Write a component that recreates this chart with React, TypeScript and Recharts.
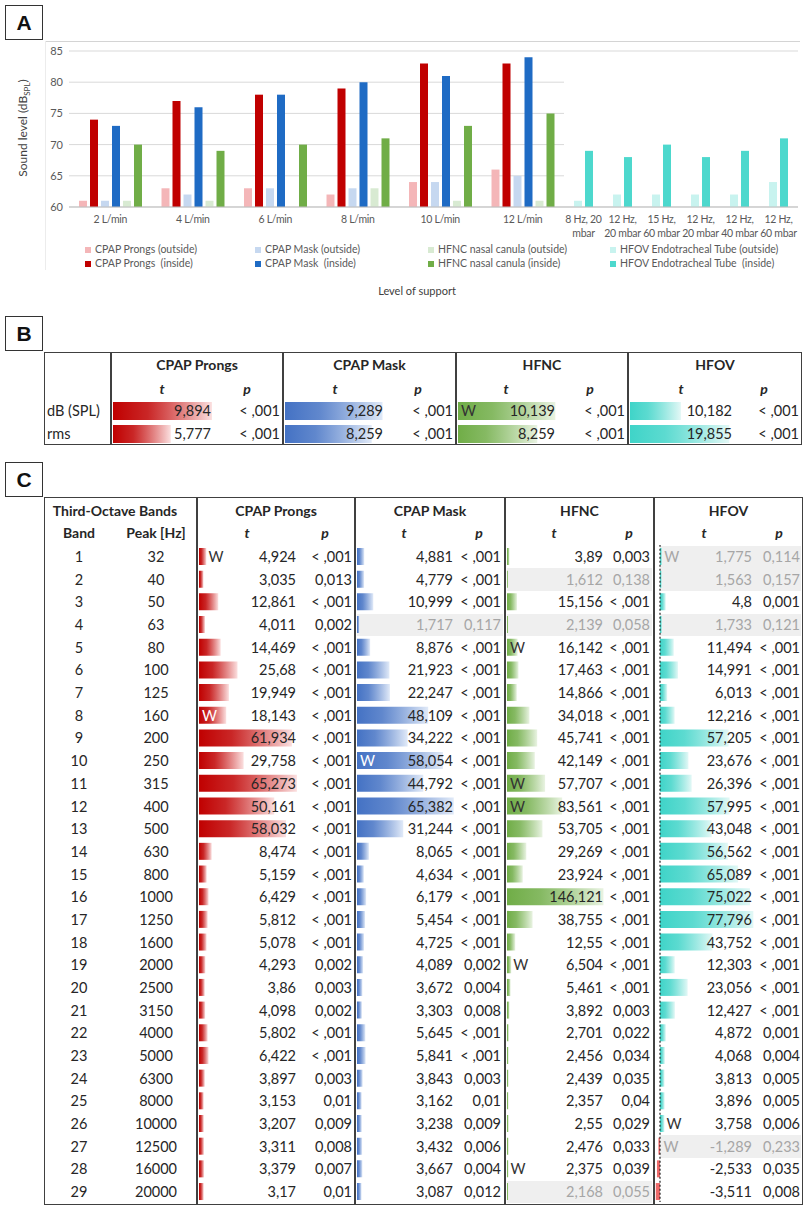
import React from "react";
import { BarChart, Bar, XAxis, YAxis, CartesianGrid, Cell, ReferenceLine } from "recharts";

// ---------- Panel A: sound level by level of support ----------
const flowLevels = ["2 L/min", "4 L/min", "6 L/min", "8 L/min", "10 L/min", "12 L/min"];
const hfovLevels = ["8 Hz, 20\nmbar", "12 Hz,\n20 mbar", "15 Hz,\n60 mbar", "12 Hz,\n20 mbar", "12 Hz,\n40 mbar", "12 Hz,\n60 mbar"];
const prongsOutside = [61, 63, 63, 62, 64, 66];
const prongsInside = [74, 77, 78, 79, 83, 83];
const maskOutside = [61, 62, 63, 63, 64, 65];
const maskInside = [73, 76, 78, 80, 81, 84];
const hfncOutside = [61, 61, null, 63, 61, 61];
const hfncInside = [70, 69, 70, 71, 73, 75];
const hfovOutside = [61, 62, 62, 62, 62, 64];
const hfovInside = [69, 68, 70, 68, 69, 71];
const soundTicks = [60, 65, 70, 75, 80, 85];

// ---------- Panel B: overall t-tests ----------
const measures = ["dB (SPL)", "rms"];
const prongsOverallT = [9.894, 5.777];
const prongsOverallP = ["< ,001", "< ,001"];
const maskOverallT = [9.289, 8.259];
const maskOverallP = ["< ,001", "< ,001"];
const hfncOverallT = [10.139, 8.259];
const hfncOverallP = ["< ,001", "< ,001"];
const hfovOverallT = [10.182, 19.855];
const hfovOverallP = ["< ,001", "< ,001"];
const prongsOverallW: number[] = [];
const maskOverallW: number[] = [];
const hfncOverallW = [1];
const hfovOverallW: number[] = [];

// ---------- Panel C: third-octave bands ----------
const bands = [1, 2, 3, 4, 5, 6, 7, 8, 9, 10, 11, 12, 13, 14, 15, 16, 17, 18, 19, 20, 21, 22, 23, 24, 25, 26, 27, 28, 29];
const peaks = [32, 40, 50, 63, 80, 100, 125, 160, 200, 250, 315, 400, 500, 630, 800, 1000, 1250, 1600, 2000, 2500, 3150, 4000, 5000, 6300, 8000, 10000, 12500, 16000, 20000];

const prongsT = [4.924, 3.035, 12.861, 4.011, 14.469, 25.68, 19.949, 18.143, 61.934, 29.758, 65.273, 50.161, 58.032, 8.474, 5.159, 6.429, 5.812, 5.078, 4.293, 3.86, 4.098, 5.802, 6.422, 3.897, 3.153, 3.207, 3.311, 3.379, 3.17];
const prongsP = ["< ,001", "0,013", "< ,001", "0,002", "< ,001", "< ,001", "< ,001", "< ,001", "< ,001", "< ,001", "< ,001", "< ,001", "< ,001", "< ,001", "< ,001", "< ,001", "< ,001", "< ,001", "0,002", "0,003", "0,002", "< ,001", "< ,001", "0,003", "0,01", "0,009", "0,008", "0,007", "0,01"];
const maskT = [4.881, 4.779, 10.999, 1.717, 8.876, 21.923, 22.247, 48.109, 34.222, 58.054, 44.792, 65.382, 31.244, 8.065, 4.634, 6.179, 5.454, 4.725, 4.089, 3.672, 3.303, 5.645, 5.841, 3.843, 3.162, 3.238, 3.432, 3.667, 3.087];
const maskP = ["< ,001", "< ,001", "< ,001", "0,117", "< ,001", "< ,001", "< ,001", "< ,001", "< ,001", "< ,001", "< ,001", "< ,001", "< ,001", "< ,001", "< ,001", "< ,001", "< ,001", "< ,001", "0,002", "0,004", "0,008", "< ,001", "< ,001", "0,003", "0,01", "0,009", "0,006", "0,004", "0,012"];
const hfncT = [3.89, 1.612, 15.156, 2.139, 16.142, 17.463, 14.866, 34.018, 45.741, 42.149, 57.707, 83.561, 53.705, 29.269, 23.924, 146.121, 38.755, 12.55, 6.504, 5.461, 3.892, 2.701, 2.456, 2.439, 2.357, 2.55, 2.476, 2.375, 2.168];
const hfncP = ["0,003", "0,138", "< ,001", "0,058", "< ,001", "< ,001", "< ,001", "< ,001", "< ,001", "< ,001", "< ,001", "< ,001", "< ,001", "< ,001", "< ,001", "< ,001", "< ,001", "< ,001", "< ,001", "< ,001", "0,003", "0,022", "0,034", "0,035", "0,04", "0,029", "0,033", "0,039", "0,055"];
const hfovT = [1.775, 1.563, 4.8, 1.733, 11.494, 14.991, 6.013, 12.216, 57.205, 23.676, 26.396, 57.995, 43.048, 56.562, 65.089, 75.022, 77.796, 43.752, 12.303, 23.056, 12.427, 4.872, 4.068, 3.813, 3.896, 3.758, -1.289, -2.533, -3.511];
const hfovP = ["0,114", "0,157", "0,001", "0,121", "< ,001", "< ,001", "< ,001", "< ,001", "< ,001", "< ,001", "< ,001", "< ,001", "< ,001", "< ,001", "< ,001", "< ,001", "< ,001", "< ,001", "< ,001", "< ,001", "< ,001", "0,001", "0,004", "0,005", "0,005", "0,006", "0,233", "0,035", "0,008"];
const prongsW = [1, 8];
const maskW = [10];
const hfncW = [5, 11, 12, 19, 28];
const hfovW = [1, 26, 27];

const FONT = "Lato, 'Open Sans', sans-serif";
const INK = "#262626";
const AXIS_GREY = "#595959";

const seriesA = [
  { key: "prongsOutside", name: "CPAP Prongs (outside)", color: "#f4b6b8" },
  { key: "prongsInside", name: "CPAP Prongs  (inside)", color: "#c00000" },
  { key: "maskOutside", name: "CPAP Mask (outside)", color: "#c6d8f0" },
  { key: "maskInside", name: "CPAP Mask  (inside)", color: "#1f6bc4" },
  { key: "hfncOutside", name: "HFNC nasal canula (outside)", color: "#d8ead2" },
  { key: "hfncInside", name: "HFNC nasal canula (inside)", color: "#70ad47" },
  { key: "hfovOutside", name: "HFOV Endotracheal Tube (outside)", color: "#c8f3ef" },
  { key: "hfovInside", name: "HFOV Endotracheal Tube  (inside)", color: "#4dd8cd" },
];

const flowData = flowLevels.map((level, i) => ({
  level,
  prongsOutside: prongsOutside[i],
  prongsInside: prongsInside[i],
  maskOutside: maskOutside[i],
  maskInside: maskInside[i],
  hfncOutside: hfncOutside[i],
  hfncInside: hfncInside[i],
}));
const hfovData = hfovLevels.map((level, i) => ({
  level,
  hfovOutside: hfovOutside[i],
  hfovInside: hfovInside[i],
}));

function LevelTick(props: any) {
  const { x, y, payload } = props;
  const lines = String(payload.value).split("\n");
  return (
    <text x={x} y={y} textAnchor="middle" fill={AXIS_GREY} fontSize={10.5} letterSpacing={-0.3} fontFamily={FONT}>
      {lines.map((l, i) => (
        <tspan key={i} x={x} dy={i === 0 ? 16 : 14}>
          {l}
        </tspan>
      ))}
    </text>
  );
}

const pNumber = (p: string) => (p.includes("<") ? 0.0005 : parseFloat(p.replace(",", ".")));
const fmt = (v: number) => String(v).replace(".", ",");

function Txt({ x, y, align = "right", children, style }: any) {
  const w = 220;
  const left = align === "right" ? x - w : align === "center" ? x - w / 2 : x;
  return (
    <div
      style={{
        position: "absolute",
        left,
        top: y - 11,
        width: w,
        height: 22,
        lineHeight: "22px",
        textAlign: align,
        whiteSpace: "pre",
        fontSize: 14.5,
        color: INK,
        ...style,
      }}
    >
      {children}
    </div>
  );
}

function DataBars(props: any) {
  const { id, g, tValues, pValues, wRows, top, rowH, barH, shift, axisLine } = props;
  const left = g.colL + 1;
  const width = g.colR - g.colL - 2;
  const zeroPx = g.zero - left;
  const domain = [-zeroPx / g.scale, (width - zeroPx) / g.scale];
  const data = tValues.map((t: number, i: number) => ({ row: i, t }));
  const ns = pValues.map((p: string) => pNumber(p) > 0.05);
  return (
    <>
      {ns.map((n: boolean, i: number) =>
        n ? (
          <div
            key={"ns" + i}
            style={{ position: "absolute", left: g.zero, top: top + i * rowH, width: g.colR - 2 - g.zero, height: rowH, background: "#efefef" }}
          />
        ) : null
      )}
      <div style={{ position: "absolute", left, top: top - shift }}>
        <BarChart layout="vertical" width={width} height={rowH * tValues.length} data={data} margin={{ top: 0, right: 0, bottom: 0, left: 0 }} barCategoryGap={0}>
          <defs>
            <linearGradient id={id} x1="0" y1="0" x2="1" y2="0">
              <stop offset="0" stopColor={g.color} />
              <stop offset="0.35" stopColor={g.color} stopOpacity={0.85} />
              <stop offset="1" stopColor={g.light} />
            </linearGradient>
          </defs>
          <XAxis type="number" domain={domain} hide allowDataOverflow />
          <YAxis type="category" dataKey="row" hide />
          <Bar dataKey="t" barSize={barH} isAnimationActive={false}>
            {data.map((d: any, i: number) => (
              <Cell key={i} fill={d.t < 0 ? "#ee6a6a" : `url(#${id})`} />
            ))}
          </Bar>
          {axisLine ? <ReferenceLine x={0} stroke="#222" strokeDasharray="2 2" strokeWidth={1.2} /> : null}
        </BarChart>
      </div>
      {tValues.map((t: number, i: number) => {
        const cy = top + i * rowH + rowH / 2;
        const c = ns[i] ? "#a6a6a6" : INK;
        return (
          <React.Fragment key={"tx" + i}>
            <Txt x={g.tRight} y={cy} style={{ color: c }}>{fmt(t)}</Txt>
            <Txt x={g.pRight} y={cy} style={{ color: c }}>{pValues[i]}</Txt>
          </React.Fragment>
        );
      })}
      {wRows.map((r: number) => {
        const i = r - 1;
        const barW = Math.abs(tValues[i]) * g.scale;
        const onBar = barW >= 10;
        const x = g.zero + (onBar ? 3 : barW + 2);
        const color = ns[i] ? "#a6a6a6" : onBar && g.darkBar ? "#ffffff" : "#333";
        return (
          <Txt key={"w" + r} x={x} y={top + i * rowH + rowH / 2} align="left" style={{ color }}>
            W
          </Txt>
        );
      })}
    </>
  );
}

function PanelLabel({ letter, top }: { letter: string; top: number }) {
  return (
    <div
      style={{
        position: "absolute",
        left: 5,
        top,
        width: 36,
        height: 33,
        border: "1.5px solid #333",
        fontFamily: "'Liberation Sans', Arial, sans-serif",
        fontWeight: 700,
        fontSize: 21,
        lineHeight: "33px",
        textAlign: "center",
        color: "#111",
      }}
    >
      {letter}
    </div>
  );
}

const Line = ({ x1, y1, x2, y2, c = "#404040", w = 1.5, style }: any) => (
  <div
    style={{
      position: "absolute",
      left: x1 - (x1 === x2 ? w / 2 : 0),
      top: y1 - (y1 === y2 ? w / 2 : 0),
      width: x1 === x2 ? w : x2 - x1,
      height: y1 === y2 ? w : y2 - y1,
      background: c,
      ...style,
    }}
  />
);

const groupsB = [
  { title: "CPAP Prongs", colL: 111, colR: 283, zero: 113, scale: 10, tRight: 211, pRight: 280, tHead: 162, pHead: 247, color: "#c00000", light: "#fbe0e0", darkBar: true, t: prongsOverallT, p: prongsOverallP, w: prongsOverallW },
  { title: "CPAP Mask", colL: 283, colR: 456, zero: 285, scale: 10.5, tRight: 383, pRight: 453, tHead: 335, pHead: 418, color: "#4472c4", light: "#e1eaf8", darkBar: true, t: maskOverallT, p: maskOverallP, w: maskOverallW },
  { title: "HFNC", colL: 456, colR: 628, zero: 458, scale: 9.6, tRight: 555, pRight: 625, tHead: 506, pHead: 590, color: "#70ad47", light: "#e9f3e2", darkBar: false, t: hfncOverallT, p: hfncOverallP, w: hfncOverallW },
  { title: "HFOV", colL: 628, colR: 802, zero: 630, scale: 5.0, tRight: 732, pRight: 799, tHead: 681, pHead: 764, color: "#3fd4c8", light: "#e3f8f6", darkBar: false, t: hfovOverallT, p: hfovOverallP, w: hfovOverallW },
];

const groupsC = [
  { title: "CPAP Prongs", colL: 197, colR: 355, zero: 199, scale: 1.5, tRight: 296, pRight: 352, tHead: 247, pHead: 325, color: "#c00000", light: "#fbe0e0", darkBar: true, t: prongsT, p: prongsP, w: prongsW },
  { title: "CPAP Mask", colL: 355, colR: 505, zero: 357, scale: 1.48, tRight: 453, pRight: 501, tHead: 404, pHead: 479, color: "#4472c4", light: "#e1eaf8", darkBar: true, t: maskT, p: maskP, w: maskW },
  { title: "HFNC", colL: 505, colR: 654, zero: 507, scale: 0.66, tRight: 603, pRight: 650, tHead: 554, pHead: 629, color: "#70ad47", light: "#e9f3e2", darkBar: false, t: hfncT, p: hfncP, w: hfncW },
  { title: "HFOV", colL: 654, colR: 803, zero: 660, scale: 1.2, tRight: 752, pRight: 800, tHead: 704, pHead: 779, color: "#3fd4c8", light: "#e3f8f6", darkBar: false, t: hfovT, p: hfovP, w: hfovW, axis: true },
];

export default function App() {
  const legendCols = [88, 258, 431, 613];
  const rowH = 22.68;
  const rowsTop = 545.7;

  return (
    <div style={{ position: "relative", width: 810, height: 1213, background: "#fff", fontFamily: FONT, overflow: "hidden" }}>
      <style>{`body{margin:0}`}</style>

      {/* ---------------- A ---------------- */}
      <PanelLabel letter="A" top={5} />
      <Line x1={45} y1={41} x2={800} y2={41} c="#d4d4d4" w={1} />
      <Line x1={45} y1={41} x2={45} y2={270} c="#ececec" w={1} />
      <div
        style={{
          position: "absolute",
          left: 23 - 70,
          top: 128 - 9,
          width: 140,
          height: 18,
          lineHeight: "18px",
          textAlign: "center",
          transform: "rotate(-90deg)",
          fontSize: 12,
          color: "#404040",
          whiteSpace: "nowrap",
        }}
      >
        Sound level (dB<span style={{ fontSize: 8, verticalAlign: "-3px" }}>SPL</span>)
      </div>

      <div style={{ position: "absolute", left: 0, top: 41 }}>
        <BarChart width={564} height={211} data={flowData} margin={{ top: 10, right: 0, bottom: 0, left: 0 }} barSize={8} barGap={3}>
          <CartesianGrid vertical={false} stroke="#d9d9d9" />
          <XAxis dataKey="level" tick={<LevelTick />} tickLine={false} tickSize={0} tickMargin={0} interval={0} height={45} axisLine={{ stroke: "#bfbfbf" }} />
          <YAxis
            type="number"
            domain={[60, 85]}
            ticks={soundTicks}
            width={69}
            tickSize={0}
            tickMargin={6}
            axisLine={false}
            tickLine={false}
            tick={{ fill: AXIS_GREY, fontSize: 11, fontFamily: FONT }}
          />
          {seriesA.slice(0, 6).map((s) => (
            <Bar key={s.key} dataKey={s.key} fill={s.color} isAnimationActive={false} />
          ))}
        </BarChart>
      </div>
      <div style={{ position: "absolute", left: 564, top: 41 }}>
        <BarChart width={234} height={211} data={hfovData} margin={{ top: 10, right: 0, bottom: 0, left: 0 }} barSize={8} barGap={3}>
          <CartesianGrid vertical={false} stroke="#d9d9d9" />
          <XAxis dataKey="level" tick={<LevelTick />} tickLine={false} tickSize={0} tickMargin={0} interval={0} height={45} axisLine={{ stroke: "#bfbfbf" }} />
          <YAxis type="number" domain={[60, 85]} ticks={soundTicks} width={0} tick={false} axisLine={false} tickLine={false} />
          {seriesA.slice(6).map((s) => (
            <Bar key={s.key} dataKey={s.key} fill={s.color} isAnimationActive={false} />
          ))}
        </BarChart>
      </div>

      {seriesA.map((s, i) => {
        const col = Math.floor(i / 2);
        const row = i % 2;
        return (
          <div
            key={s.key}
            style={{
              position: "absolute",
              left: legendCols[col] - 3,
              top: 249 + row * 14 - 7,
              height: 14,
              lineHeight: "14px",
              fontSize: 10.5,
              color: AXIS_GREY,
              whiteSpace: "pre",
            }}
          >
            <span style={{ display: "inline-block", width: 6, height: 6, background: s.color, marginRight: 4, verticalAlign: "0px" }} />
            {s.name}
          </div>
        );
      })}
      <Txt x={417} y={291} align="center" style={{ fontSize: 11, color: "#404040" }}>
        Level of support
      </Txt>

      {/* ---------------- B ---------------- */}
      <PanelLabel letter="B" top={316} />
      <div style={{ position: "absolute", left: 44, top: 352, width: 802 - 44, height: 445 - 352, border: "1.5px solid #404040", boxSizing: "border-box" }} />
      {groupsB.map((g) => (
        <Line key={"bl" + g.title} x1={g.colL} y1={352} x2={g.colL} y2={445} />
      ))}
      {measures.map((m, i) => (
        <Txt key={m} x={47} y={410.5 + i * 23} align="left">
          {m}
        </Txt>
      ))}
      {groupsB.map((g, gi) => (
        <React.Fragment key={"bg" + gi}>
          <Txt x={(g.colL + g.colR) / 2} y={365} align="center" style={{ fontWeight: 700, fontSize: 14 }}>
            {g.title}
          </Txt>
          <Txt x={g.tHead} y={389} align="center" style={{ fontWeight: 700, fontStyle: "italic", fontSize: 14 }}>
            t
          </Txt>
          <Txt x={g.pHead} y={389} align="center" style={{ fontWeight: 700, fontStyle: "italic", fontSize: 14 }}>
            p
          </Txt>
          <DataBars id={"gradB" + gi} g={g} tValues={g.t} pValues={g.p} wRows={g.w} top={399} rowH={23} barH={18} shift={0.5} />
        </React.Fragment>
      ))}

      {/* ---------------- C ---------------- */}
      <PanelLabel letter="C" top={462} />
      <div style={{ position: "absolute", left: 44, top: 497, width: 803 - 44, height: 1205 - 497, border: "1.5px solid #404040", boxSizing: "border-box" }} />
      {groupsC.map((g) => (
        <Line key={"cl" + g.title} x1={g.colL} y1={497} x2={g.colL} y2={1205} />
      ))}
      <Txt x={115} y={511} align="center" style={{ fontWeight: 700, fontSize: 14 }}>
        Third-Octave Bands
      </Txt>
      <Txt x={79} y={533} align="center" style={{ fontWeight: 700, fontSize: 14 }}>
        Band
      </Txt>
      <Txt x={156} y={533} align="center" style={{ fontWeight: 700, fontSize: 14 }}>
        Peak [Hz]
      </Txt>
      {bands.map((b, i) => (
        <React.Fragment key={"band" + b}>
          <Txt x={79} y={rowsTop + i * rowH + rowH / 2} align="center">
            {b}
          </Txt>
          <Txt x={156} y={rowsTop + i * rowH + rowH / 2} align="center">
            {peaks[i]}
          </Txt>
        </React.Fragment>
      ))}
      {groupsC.map((g, gi) => (
        <React.Fragment key={"cg" + gi}>
          <Txt x={(g.colL + g.colR) / 2} y={511} align="center" style={{ fontWeight: 700, fontSize: 14 }}>
            {g.title}
          </Txt>
          <Txt x={g.tHead} y={533} align="center" style={{ fontWeight: 700, fontStyle: "italic", fontSize: 14 }}>
            t
          </Txt>
          <Txt x={g.pHead} y={533} align="center" style={{ fontWeight: 700, fontStyle: "italic", fontSize: 14 }}>
            p
          </Txt>
          <DataBars id={"gradC" + gi} g={g} tValues={g.t} pValues={g.p} wRows={g.w} top={rowsTop} rowH={rowH} barH={17} shift={1} axisLine={!!g.axis} />
        </React.Fragment>
      ))}
    </div>
  );
}
